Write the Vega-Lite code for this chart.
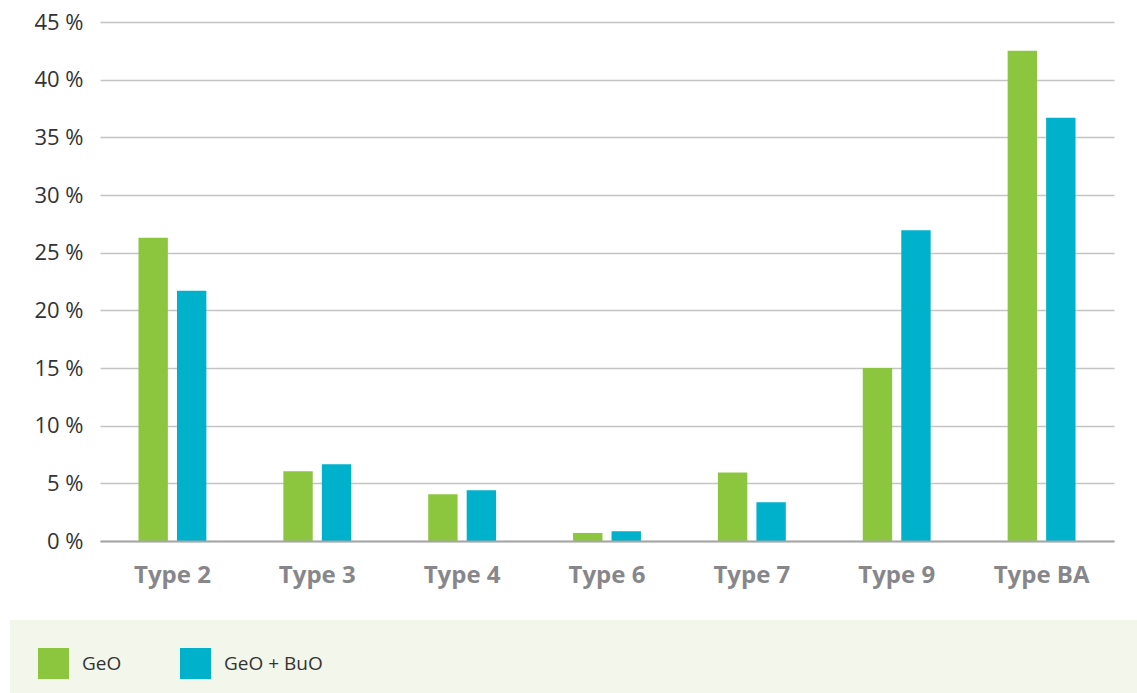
{
  "$schema": "https://vega.github.io/schema/vega-lite/v6.json",
  "autosize": {"type": "none"},
  "padding": {"left": 100, "top": 22, "right": 23, "bottom": 152},
  "width": 1014,
  "height": 519,
  "background": "white",
  "config": {
    "font": "Open Sans",
    "view": {"stroke": null}
  },
  "data": {
    "values": [
      {"type": "Type 2", "series": "GeO", "value": 26.3},
      {"type": "Type 2", "series": "GeO + BuO", "value": 21.7},
      {"type": "Type 3", "series": "GeO", "value": 6.05},
      {"type": "Type 3", "series": "GeO + BuO", "value": 6.65},
      {"type": "Type 4", "series": "GeO", "value": 4.05},
      {"type": "Type 4", "series": "GeO + BuO", "value": 4.4},
      {"type": "Type 6", "series": "GeO", "value": 0.7},
      {"type": "Type 6", "series": "GeO + BuO", "value": 0.85},
      {"type": "Type 7", "series": "GeO", "value": 5.95},
      {"type": "Type 7", "series": "GeO + BuO", "value": 3.35},
      {"type": "Type 9", "series": "GeO", "value": 15.0},
      {"type": "Type 9", "series": "GeO + BuO", "value": 26.95},
      {"type": "Type BA", "series": "GeO", "value": 42.5},
      {"type": "Type BA", "series": "GeO + BuO", "value": 36.7}
    ]
  },
  "mark": {"type": "bar"},
  "encoding": {
    "x": {
      "field": "type",
      "type": "nominal",
      "sort": null,
      "scale": {"paddingInner": 0, "paddingOuter": 0},
      "axis": {
        "title": null,
        "labelAngle": 0,
        "labelFontSize": 24,
        "labelFontWeight": "bold",
        "labelColor": "#87878b",
        "labelPadding": 22,
        "ticks": false,
        "domain": true,
        "domainColor": "#a6a6a6",
        "domainWidth": 2,
        "zindex": 1
      }
    },
    "xOffset": {
      "field": "series",
      "type": "nominal",
      "scale": {"paddingInner": 0.237, "paddingOuter": 1.03}
    },
    "y": {
      "field": "value",
      "type": "quantitative",
      "scale": {"domain": [0, 45], "nice": false},
      "axis": {
        "title": null,
        "values": [0, 5, 10, 15, 20, 25, 30, 35, 40, 45],
        "labelExpr": "datum.value + ' %'",
        "labelFontSize": 22,
        "labelColor": "#333333",
        "labelPadding": 17,
        "ticks": false,
        "domain": false,
        "grid": true,
        "gridColor": "#c4c4c4",
        "gridWidth": 1.5
      }
    },
    "color": {
      "field": "series",
      "type": "nominal",
      "scale": {"domain": ["GeO", "GeO + BuO"], "range": ["#8cc63f", "#00b1cc"]},
      "legend": {
        "orient": "none",
        "legendX": -90,
        "legendY": 598,
        "direction": "horizontal",
        "title": "\u00a0",
        "titleOrient": "right",
        "titlePadding": 850,
        "titleFontSize": 10,
        "fillColor": "#f3f6ea",
        "strokeColor": null,
        "padding": 28,
        "symbolType": "square",
        "symbolSize": 961,
        "symbolStrokeWidth": 0,
        "labelFontSize": 19,
        "labelColor": "#333333",
        "labelOffset": 13,
        "columnPadding": 58
      }
    }
  }
}
